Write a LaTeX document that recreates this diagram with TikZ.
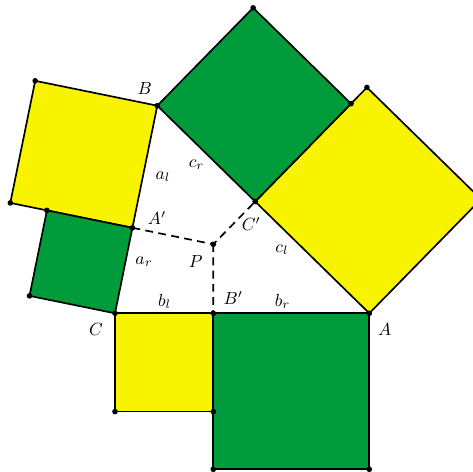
\documentclass[tikz,border=0pt]{standalone}
\usepackage{amsmath}
\usepackage{xcolor}
\usepackage{tikz}
\usetikzlibrary{calc}
\definecolor{squareGreen}{RGB}{0,155,58}
\definecolor{squareYellow}{RGB}{248,244,0}

\begin{document}
\begin{tikzpicture}[line width=0.95pt, line join=round]
    \useasboundingbox (-2.30,-3.174) rectangle (7.16,6.266);
    \coordinate (C) at (0,0);
    \coordinate (A) at (5.086,0);
    \coordinate (B) at (0.846,4.152);
    \coordinate (P) at (1.966,1.38);
    \coordinate (Ap) at ($(B)!(P)!(C)$);
    \coordinate (Bp) at ($(C)!(P)!(A)$);
    \coordinate (Cp) at ($(A)!(P)!(B)$);
    \foreach \u/\v/\col in {C/Bp/squareYellow, Bp/A/squareGreen, A/Cp/squareYellow,
                            Cp/B/squareGreen, B/Ap/squareYellow, Ap/C/squareGreen} {
        \coordinate (\u-\v-1) at ($(\v)!1!90:(\u)$);
        \coordinate (\u-\v-2) at ($(\u)!1!-90:(\v)$);
        \filldraw[fill=\col] (\u) -- (\v) -- (\u-\v-1) -- (\u-\v-2) -- cycle;
    }
    \draw[dash pattern=on 4.5pt off 3pt] (Ap) -- (P) -- (Cp) (P) -- (Bp);
    \foreach \u/\v in {C/Bp, Bp/A, A/Cp, Cp/B, B/Ap, Ap/C}
        \fill (\u-\v-1) circle (1.6pt) (\u-\v-2) circle (1.6pt);
    \foreach \p in {A,B,C,P,Ap,Bp,Cp}
        \fill (\p) circle (1.6pt);
    \node (labA) at ($(A)+(0.31,-0.33)$) {\(A\)};
    \node (labB) at ($(B)+(-0.25,0.35)$) {\(B\)};
    \node (labC) at ($(C)+(-0.38,-0.33)$) {\(C\)};
    \node (labP) at ($(P)+(-0.35,-0.35)$) {\(P\)};
    \node (labAp) at ($(Ap)+(0.49,0.19)$) {\(A'\)};
    \node (labBp) at ($(Bp)+(0.40,0.30)$) {\(B'\)};
    \node (labCp) at ($(Cp)+(-0.08,-0.45)$) {\(C'\)};
    \node (labal) at (0.96,2.73) {\(a_l\)};
    \node (labar) at (0.58,1.03) {\(a_r\)};
    \node (labbl) at (0.99,0.24) {\(b_l\)};
    \node (labbr) at (3.35,0.24) {\(b_r\)};
    \node (labcr) at (1.63,2.97) {\(c_r\)};
    \node (labcl) at (3.34,1.27) {\(c_l\)};
\end{tikzpicture}
\end{document}
